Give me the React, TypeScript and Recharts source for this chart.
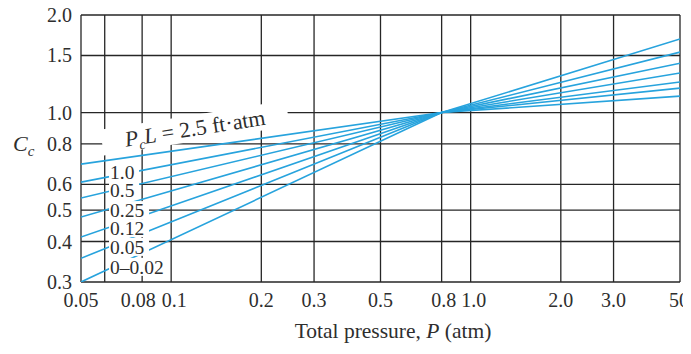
import React from 'react';
import { LineChart, Line, XAxis, YAxis, CartesianGrid, ReferenceDot } from 'recharts';

const pressures = [0.05, 0.8, 5.0];

// correction factor Cc for each PcL curve (ft·atm)
const pcl25 = [0.693, 1.0, 1.124];
const pcl10 = [0.61, 1.0, 1.19];
const pcl05 = [0.545, 1.0, 1.242];
const pcl025 = [0.476, 1.0, 1.324];
const pcl012 = [0.413, 1.0, 1.42];
const pcl005 = [0.355, 1.0, 1.537];
const pcl0 = [0.3, 1.0, 1.686];

const seriesKeys = ['pcl25', 'pcl10', 'pcl05', 'pcl025', 'pcl012', 'pcl005', 'pcl0'];
const seriesValues = [pcl25, pcl10, pcl05, pcl025, pcl012, pcl005, pcl0];

// curve tags stacked at the left edge
const curveTags = ['1.0', '0.5', '0.25', '0.12', '0.05', '0\u20130.02'];
const curveTagC = [0.655, 0.576, 0.5, 0.44, 0.385, 0.334];
const curveTagP = 0.0625;

const xTicks = [0.05, 0.06, 0.08, 0.1, 0.2, 0.3, 0.5, 0.8, 1, 2, 3, 5];
const xTickLabels = ['0.05', '', '0.08', '0.1', '0.2', '0.3', '0.5', '0.8', '1.0', '2.0', '3.0', '50'];
const yTicks = [0.3, 0.4, 0.5, 0.6, 0.8, 1.0, 1.5, 2.0];
const yTickLabels = ['0.3', '0.4', '0.5', '0.6', '0.8', '1.0', '1.5', '2.0'];

const data = pressures.map((p, i) => {
  const row: Record<string, number> = { p };
  seriesKeys.forEach((k, j) => {
    row[k] = seriesValues[j][i];
  });
  return row;
});

const FONT = '"Liberation Serif", "DejaVu Serif", serif';
const TEXT = '#2e2e2e';
const GRID = '#262626';
const BLUE = '#27a3dd';

// small nudges so crowded tick labels don't collide
const xTickNudge: Record<string, number> = { '0.08': -4, '0.1': 3, '0.8': 2, '1.0': 3, '50': -1 };

const charWidth = (s: string, size: number) =>
  s.split('').reduce((w, ch) => w + (ch === '.' ? 0.25 : 0.5) * size, 0);

const XTick = (props: any) => {
  const { x, y, payload } = props;
  const idx = xTicks.indexOf(payload.value);
  const label = idx >= 0 ? xTickLabels[idx] : '';
  return (
    <text x={x + (xTickNudge[label] || 0)} y={y} dy="0.71em" textAnchor="middle" fontFamily={FONT} fontSize={20} fill={TEXT}>
      {label}
    </text>
  );
};

const YTick = (props: any) => {
  const { x, y, payload } = props;
  const idx = yTicks.indexOf(payload.value);
  return (
    <text x={x} y={y} dy="0.35em" textAnchor="end" fontFamily={FONT} fontSize={20} fill={TEXT}>
      {idx >= 0 ? yTickLabels[idx] : ''}
    </text>
  );
};

const XTitle = (props: any) => {
  const vb = props.viewBox || { x: 0, y: 0 };
  return (
    <text x={vb.x + 312} y={vb.y + 48} dy="0.35em" textAnchor="middle" fontFamily={FONT} fontSize={21.5} fill={TEXT}>
      Total pressure, <tspan fontStyle="italic">P</tspan> (atm)
    </text>
  );
};

const YTitle = (props: any) => {
  const vb = props.viewBox || { x: 0, y: 0 };
  return (
    <text x={vb.x + 13} y={vb.y + 128} dy="0.35em" fontFamily={FONT} fontSize={22} fill={TEXT}>
      <tspan fontStyle="italic">C</tspan>
      <tspan fontStyle="italic" fontSize={15} dy={5}>c</tspan>
    </text>
  );
};

const CurveTag = ({ cx, cy, text }: { cx: number; cy: number; text: string }) => {
  const w = charWidth(text, 20) + 5;
  return (
    <g>
      <rect x={cx - 1} y={cy - 9} width={w} height={18} fill="#fff" />
      <text x={cx} y={cy} dy="0.35em" fontFamily={FONT} fontSize={19.5} fill={TEXT}>
        {text}
      </text>
    </g>
  );
};

const TitleTag = ({ cx, cy }: { cx: number; cy: number }) => (
  <g transform={`rotate(-9 ${cx} ${cy})`}>
    <rect x={cx - 94} y={cy - 13} width={188} height={26} fill="#fff" />
    <text x={cx} y={cy} dy="0.35em" textAnchor="middle" fontFamily={FONT} fontSize={22} fill={TEXT}>
      <tspan fontStyle="italic">P</tspan>
      <tspan fontStyle="italic" fontSize={14} dy={5}>c</tspan>
      <tspan fontStyle="italic" dy={-5}>L</tspan>
      <tspan> = 2.5 ft·atm</tspan>
    </text>
  </g>
);

export default function App() {
  return (
    <div style={{ margin: -8, background: '#fff', width: 691, height: 354 }}>
      <LineChart width={691} height={354} data={data} margin={{ top: 15, right: 11, left: 0, bottom: 32 }}>
        <CartesianGrid stroke={GRID} strokeWidth={1.3} />
        <XAxis
          dataKey="p"
          type="number"
          scale="log"
          domain={[0.05, 5]}
          ticks={xTicks}
          interval={0}
          allowDataOverflow
          axisLine={false}
          tickLine={false}
          tickSize={0}
          tickMargin={11}
          height={40}
          tick={<XTick />}
          label={<XTitle />}
        />
        <YAxis
          type="number"
          scale="log"
          domain={[0.3, 2]}
          ticks={yTicks}
          interval={0}
          allowDataOverflow
          axisLine={false}
          tickLine={false}
          tickSize={0}
          tickMargin={9}
          width={81}
          tick={<YTick />}
          label={<YTitle />}
        />
        {seriesKeys.map((k) => (
          <Line
            key={k}
            dataKey={k}
            type="linear"
            stroke={BLUE}
            strokeWidth={1.6}
            dot={false}
            isAnimationActive={false}
          />
        ))}
        {curveTags.map((t, i) => (
          <ReferenceDot
            key={t}
            x={curveTagP}
            y={curveTagC[i]}
            r={0}
            shape={(p: any) => <CurveTag cx={p.cx} cy={p.cy} text={t} />}
          />
        ))}
        <ReferenceDot x={0.12} y={0.896} r={0} shape={(p: any) => <TitleTag cx={p.cx} cy={p.cy} />} />
      </LineChart>
    </div>
  );
}
